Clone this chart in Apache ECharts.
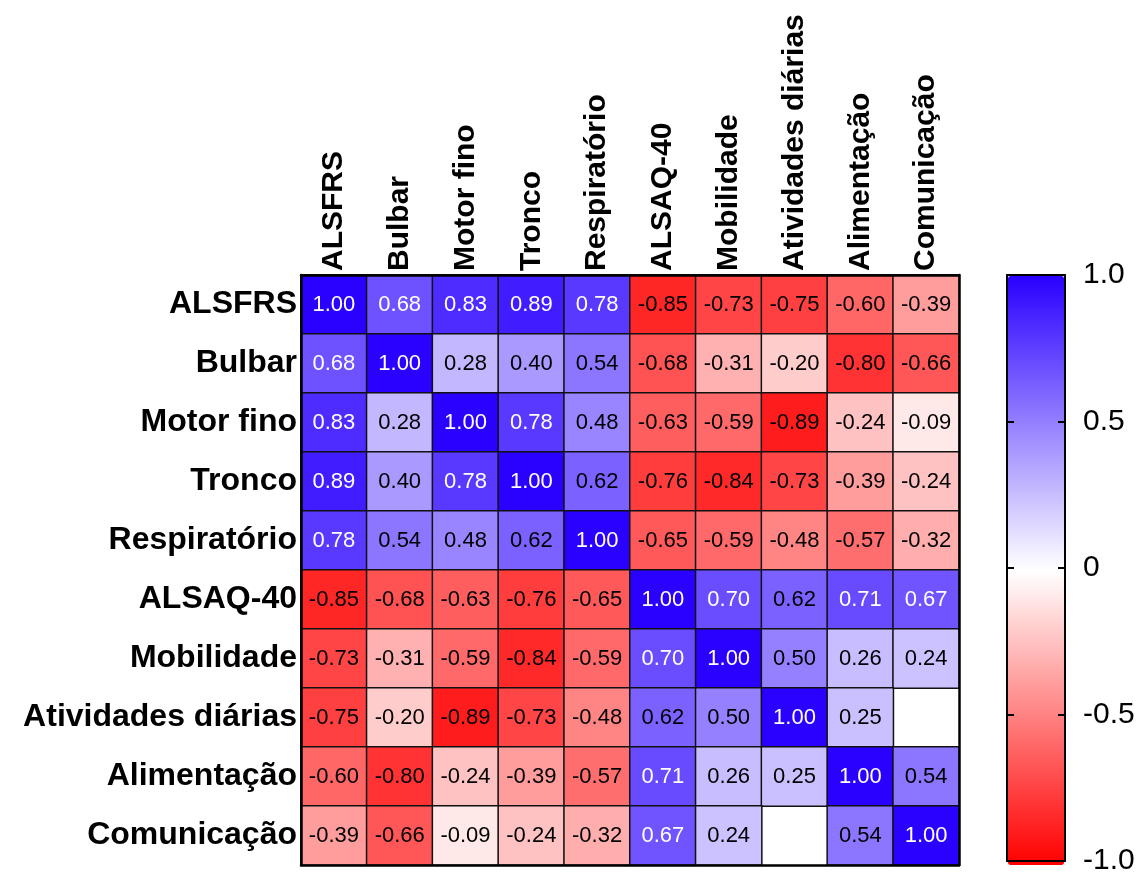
<!DOCTYPE html>
<html>
<head>
<meta charset="utf-8">
<script src="https://cdn.jsdelivr.net/npm/echarts@6/dist/echarts.min.js"></script>
<style>html,body{margin:0;padding:0;background:#fff}#c{width:1147px;height:876px}</style>
</head>
<body>
<div id="c"></div>
<script>
var variables = ['ALSFRS','Bulbar','Motor fino','Tronco','Respiratório','ALSAQ-40','Mobilidade','Atividades diárias','Alimentação','Comunicação'];
var rowALSFRS      = [1.00, 0.68, 0.83, 0.89, 0.78, -0.85, -0.73, -0.75, -0.60, -0.39];
var rowBulbar      = [0.68, 1.00, 0.28, 0.40, 0.54, -0.68, -0.31, -0.20, -0.80, -0.66];
var rowMotorFino   = [0.83, 0.28, 1.00, 0.78, 0.48, -0.63, -0.59, -0.89, -0.24, -0.09];
var rowTronco      = [0.89, 0.40, 0.78, 1.00, 0.62, -0.76, -0.84, -0.73, -0.39, -0.24];
var rowRespiratorio= [0.78, 0.54, 0.48, 0.62, 1.00, -0.65, -0.59, -0.48, -0.57, -0.32];
var rowALSAQ40     = [-0.85, -0.68, -0.63, -0.76, -0.65, 1.00, 0.70, 0.62, 0.71, 0.67];
var rowMobilidade  = [-0.73, -0.31, -0.59, -0.84, -0.59, 0.70, 1.00, 0.50, 0.26, 0.24];
var rowAtividades  = [-0.75, -0.20, -0.89, -0.73, -0.48, 0.62, 0.50, 1.00, 0.25, null];
var rowAlimentacao = [-0.60, -0.80, -0.24, -0.39, -0.57, 0.71, 0.26, 0.25, 1.00, 0.54];
var rowComunicacao = [-0.39, -0.66, -0.09, -0.24, -0.32, 0.67, 0.24, null, 0.54, 1.00];
var colorbarTicks = [1.0, 0.5, 0, -0.5, -1.0];

var matrix = [rowALSFRS,rowBulbar,rowMotorFino,rowTronco,rowRespiratorio,rowALSAQ40,rowMobilidade,rowAtividades,rowAlimentacao,rowComunicacao];
var FONT = '"Liberation Sans", Arial, Helvetica, sans-serif';
var data = [];
matrix.forEach(function(row, i){
  row.forEach(function(v, j){
    if (v === null) return;
    data.push({value:[j, i, v], label:{color: v > 0.65 ? '#ffffff' : '#000000'}});
  });
});

var chart = echarts.init(document.getElementById('c'));
chart.setOption({
  backgroundColor: '#fff',
  animation: false,
  grid: [
    {left: 301, top: 275, width: 658, height: 590},
    {left: 1007, top: 275, width: 58, height: 591}
  ],
  xAxis: [
    {type:'category', gridIndex:0, data: variables, position:'top', z:10,
     axisLine:{show:true, onZero:false, lineStyle:{color:'#000', width:2.5}}, axisTick:{show:false},
     axisLabel:{rotate:-90, margin:4, interval:0, fontFamily: FONT, fontWeight:'bold', fontSize:30, color:'#000'},
     splitLine:{show:false}},
    {type:'category', gridIndex:0, data: variables, position:'bottom', z:10,
     axisLine:{show:true, onZero:false, lineStyle:{color:'#000', width:2.5}}, axisTick:{show:false}, axisLabel:{show:false}},
    {type:'value', gridIndex:1, position:'bottom', min:0, max:1, z:10,
     axisLine:{show:true, onZero:false, lineStyle:{color:'#000', width:2}}, axisTick:{show:false}, axisLabel:{show:false}, splitLine:{show:false}},
    {type:'value', gridIndex:1, position:'top', min:0, max:1, z:10,
     axisLine:{show:true, onZero:false, lineStyle:{color:'#000', width:2}}, axisTick:{show:false}, axisLabel:{show:false}, splitLine:{show:false}}
  ],
  yAxis: [
    {type:'category', gridIndex:0, data: variables, inverse:true, position:'left', z:10,
     axisLine:{show:true, onZero:false, lineStyle:{color:'#000', width:2.5}}, axisTick:{show:false},
     axisLabel:{margin:4, interval:0, fontFamily: FONT, fontWeight:'bold', fontSize:32, color:'#000'},
     splitLine:{show:false}},
    {type:'category', gridIndex:0, data: variables, inverse:true, position:'right', z:10,
     axisLine:{show:true, onZero:false, lineStyle:{color:'#000', width:2.5}}, axisTick:{show:false}, axisLabel:{show:false}},
    {type:'value', gridIndex:1, position:'left', min:-1, max:1, interval:0.5, z:10,
     axisLine:{show:true, onZero:false, lineStyle:{color:'#000', width:2}},
     axisTick:{show:true, inside:true, length:7, lineStyle:{color:'#000', width:2}},
     axisLabel:{show:false}, splitLine:{show:false}},
    {type:'value', gridIndex:1, position:'right', min:-1, max:1, interval:0.5, z:10,
     axisLine:{show:true, onZero:false, lineStyle:{color:'#000', width:2}},
     axisTick:{show:true, inside:true, length:7, lineStyle:{color:'#000', width:2}},
     axisLabel:{show:true, margin:18, fontFamily: FONT, fontSize:30, color:'#000',
       formatter:function(v){ return colorbarTicks.indexOf(v) < 0 ? '' : (v === 0 ? '0' : v.toFixed(1)); }},
     splitLine:{show:false}}
  ],
  visualMap: {
    type:'continuous', seriesIndex:0, min:-1, max:1, calculable:false,
    orient:'vertical', left:1008, top:276, itemWidth:56, itemHeight:589, padding:0,
    text:null, showLabel:false,
    inRange:{color:['#ff0000','#ffffff','#2a00ff']}
  },
  series: [
    {type:'heatmap', xAxisIndex:0, yAxisIndex:0, data:data,
     itemStyle:{borderColor:'#111', borderWidth:1.5},
     label:{show:true, fontFamily: FONT, fontSize:22,
       formatter:function(p){ return p.value[2].toFixed(2); }},
     emphasis:{disabled:true}},
    {type:'line', xAxisIndex:2, yAxisIndex:3, data:[], silent:true}
  ]
});
</script>
</body>
</html>
